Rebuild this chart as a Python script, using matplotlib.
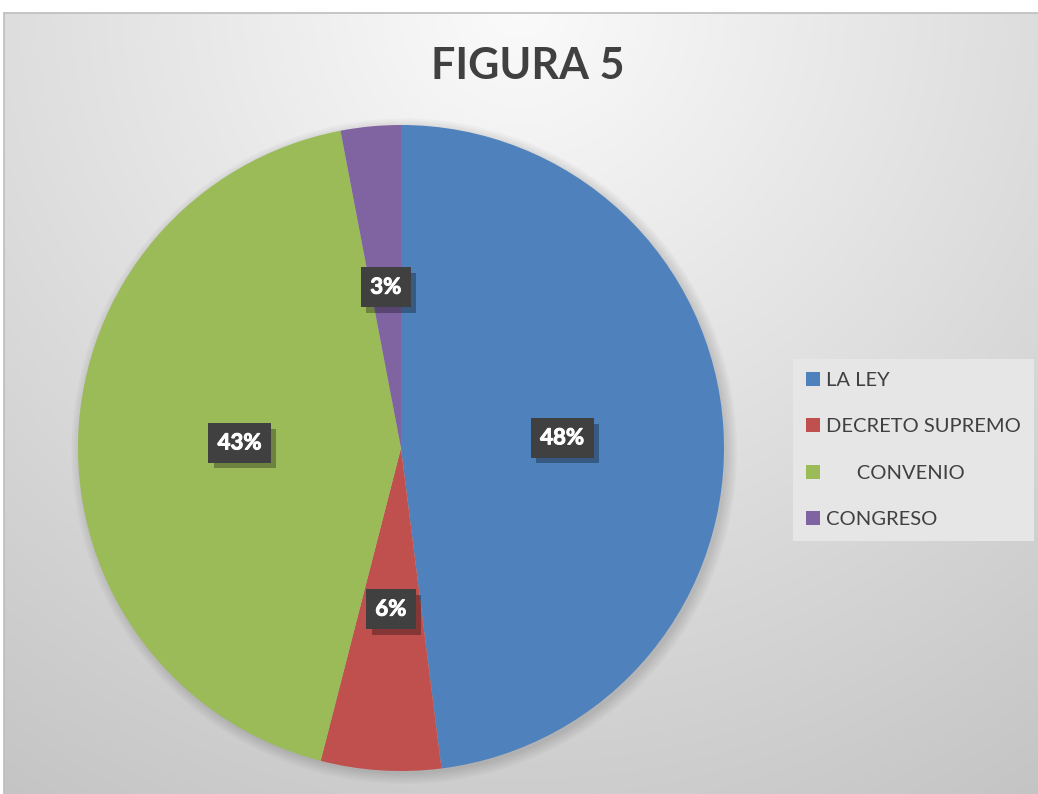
import numpy as np
import matplotlib.pyplot as plt
import matplotlib.patheffects as pe
from matplotlib.patches import Circle

# data
categorias = ["LA LEY", "DECRETO SUPREMO", "      CONVENIO", "CONGRESO"]
valores = [48, 6, 43, 3]
colores = ["#4f81bd", "#c0504d", "#9bbb59", "#8064a2"]

W, H = 1038, 794
fig = plt.figure(figsize=(W / 100, H / 100), dpi=100)
fig.patch.set_facecolor("white")

# chart area with grey radial gradient
bg = fig.add_axes([4 / W, 0, 1 - 4 / W, (H - 13) / H])
yy, xx = np.mgrid[0:781, 0:1034]
d = np.sqrt((xx - 515) ** 2 + (yy + 10) ** 2)
val = np.clip(251 - 0.058 * d, 190, 255) / 255.0
img = np.dstack([val, val, val])
bg.imshow(img, aspect="auto", extent=[0, 1, 0, 1], origin="upper")
bg.set_xlim(0, 1)
bg.set_ylim(0, 1)
bg.set_xticks([])
bg.set_yticks([])
for s in ["right", "bottom"]:
    bg.spines[s].set_visible(False)
for s in ["top", "left"]:
    bg.spines[s].set_color("#bdbdbd")
    bg.spines[s].set_linewidth(1.2)

fig.text(528 / W, 1 - 66 / H, "FIGURA 5", ha="center", va="center",
         fontsize=31, fontweight="bold", color="#404040", family="Lato")

# pie
cx, cy, r = 401, 448, 323
ax = fig.add_axes([(cx - r * 1.05) / W, (H - cy - r * 1.05) / H, 2.1 * r / W, 2.1 * r / H])
ax.set_facecolor("none")
# soft shadow behind the pie
for k in range(6):
    ax.add_patch(Circle((0.01, -0.01), 1 + 0.006 * k, color="black",
                        alpha=0.025, linewidth=0, zorder=0))
wedges, texts, autotexts = ax.pie(
    valores, colors=colores, startangle=90, counterclock=False,
    autopct="%1.0f%%", pctdistance=0.5, radius=1,
    wedgeprops=dict(linewidth=0))
for t in autotexts:
    t.set_color("white")
    t.set_fontsize(16)
    t.set_family("Lato")
    t.set_fontweight("bold")
    t.set_path_effects([pe.withStroke(linewidth=0.7, foreground="white")])
    t.set_bbox(dict(boxstyle="square,pad=0.42", facecolor="#404040", edgecolor="none"))
    t.get_bbox_patch().set_path_effects([
        pe.SimplePatchShadow(offset=(4, -4), shadow_rgbFace="black", alpha=0.3),
        pe.Normal()])
ax.set_xlim(-1.05, 1.05)
ax.set_ylim(-1.05, 1.05)
ax.set_aspect("equal")
ax.axis("off")

leg = fig.legend(wedges, categorias, loc="upper left",
                 bbox_to_anchor=(793 / W, 1 - 359 / H), borderaxespad=0,
                 frameon=True, fancybox=False, facecolor="#e6e6e6",
                 edgecolor="none", framealpha=1,
                 prop=dict(family="Lato", size=14.5),
                 labelspacing=1.45, handlelength=0.7, handleheight=0.7,
                 handletextpad=0.3, borderpad=0.65)
for t in leg.get_texts():
    t.set_color("#404040")

fig.savefig("out.png", dpi=100)
